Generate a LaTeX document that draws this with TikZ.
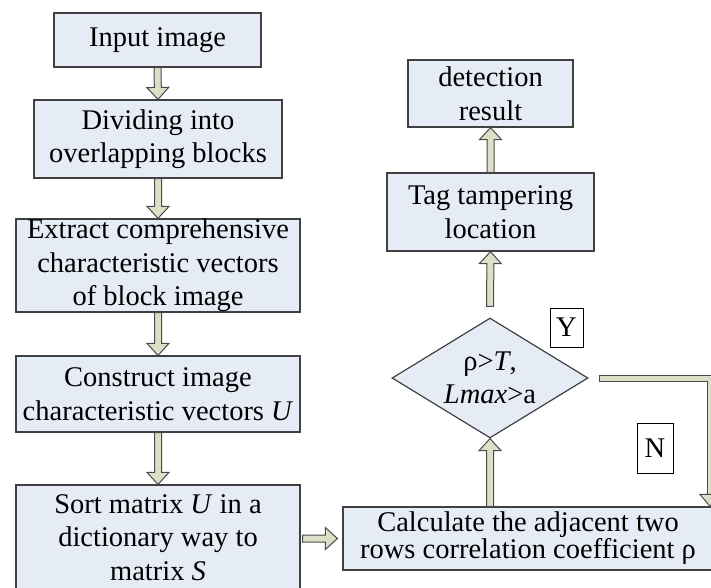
\documentclass[tikz,border=0pt]{standalone}
\usepackage{fontspec}
\setmainfont{Liberation Serif}
\usetikzlibrary{shapes.geometric,calc}

\definecolor{boxfill}{HTML}{E6ECF6}
\definecolor{boxline}{HTML}{404040}
\definecolor{arrowfill}{HTML}{DCDFC6}
\definecolor{arrowline}{HTML}{4A4A4A}

\tikzset{
  txt/.style={font=\fontsize{28.5}{33.5}\selectfont, align=center, inner sep=0pt},
  box/.style={txt, rectangle, draw=boxline, fill=boxfill, line width=1.2pt},
  decision/.style={txt, diamond, draw=boxline, fill=boxfill, line width=1.2pt, aspect=1.63},
  tagbox/.style={txt, rectangle, draw=black, fill=white, line width=1pt},
  arrowbody/.style={draw=arrowline, fill=arrowfill, line width=1pt, line join=miter},
  shaftout/.style={draw=arrowline, line width=7pt, line join=miter},
  shaftin/.style={draw=arrowfill, line width=5pt, line join=miter},
}

% hollow block arrow from #1 to #2 (tip at #2)
\newcommand\blockarrow[2]{%
  \path (#1) coordinate (ba-s) (#2) coordinate (ba-e);
  \path ($(ba-e)!12pt!(ba-s)$) coordinate (ba-h);
  \draw[arrowbody]
    ($(ba-s)!3.5pt!90:(ba-e)$) --
    ($(ba-h)!3.5pt!90:(ba-e)$) --
    ($(ba-h)!11pt!90:(ba-e)$) --
    (ba-e) --
    ($(ba-h)!11pt!-90:(ba-e)$) --
    ($(ba-h)!3.5pt!-90:(ba-e)$) --
    ($(ba-s)!3.5pt!-90:(ba-e)$) -- cycle;
}

\begin{document}
\begin{tikzpicture}[x=1pt, y=-1pt]
\useasboundingbox (0,0) rectangle (711,587);
\clip (0,0) rectangle (711,587);

% left column
\node[box, minimum width=207pt, minimum height=54pt] (in) at (157.5,40) {Input image};
\node[box, minimum width=248pt, minimum height=78pt] (div) at (158,139) {Dividing into\\overlapping blocks};
\node[box, minimum width=284pt, minimum height=93pt] (ext) at (158,265.5) {Extract comprehensive\\characteristic vectors\\of block image};
\node[box, minimum width=284pt, minimum height=76pt] (con) at (158,394) {Construct image\\characteristic vectors \textit{U}};
\node[box, minimum width=284pt, minimum height=105pt] (sort) at (158,537.5) {Sort matrix \textit{U} in a\\dictionary way to\\matrix \textit{S}};

% right column
\node[box, minimum width=370pt, minimum height=63pt, font=\fontsize{28.5}{27}\selectfont] (calc) at (528,538.5) {Calculate the adjacent two\\rows correlation coefficient ρ};
\node[decision, minimum width=196pt, minimum height=120pt] (dec) at (490,378) {ρ>\textit{T},\\\textit{Lmax}>a};
\node[box, minimum width=207pt, minimum height=78pt] (tag) at (490.5,212) {Tag tampering\\location};
\node[box, minimum width=165pt, minimum height=67pt] (det) at (490.5,93.5) {detection\\result};

% branch labels
\node[tagbox, minimum width=33pt, minimum height=39pt] (yes) at (566.5,327.5) {Y};
\node[tagbox, minimum width=36pt, minimum height=50pt] (no) at (655,448) {N};

% flow arrows
\blockarrow{in.south}{div.north}
\blockarrow{div.south}{ext.north}
\blockarrow{ext.south}{con.north}
\blockarrow{con.south}{sort.north}
\blockarrow{$(sort.east |- calc.west)+(2pt,0pt)$}{$(calc.west)+(-5pt,0pt)$}
\blockarrow{dec.south |- calc.north}{dec.south}
\blockarrow{$(dec.north)+(0pt,11pt)$}{tag.south}
\blockarrow{tag.north}{det.south}

% "N" branch back to the correlation step
\coordinate (nstart) at ($(dec.east)+(10pt,0pt)$);
\coordinate (ncorner) at (710,378);
\coordinate (nend) at (ncorner |- calc.north);
\draw[shaftout] (nstart) -- (ncorner) -- ($(nend)+(0pt,11pt)$);
\draw[shaftin, shorten <=1pt] (nstart) -- (ncorner) -- ($(nend)+(0pt,11pt)$);
\draw[arrowbody] ($(nend)+(-10pt,12pt)$) -- (nend) -- ($(nend)+(10pt,12pt)$) -- cycle;
\end{tikzpicture}
\end{document}
